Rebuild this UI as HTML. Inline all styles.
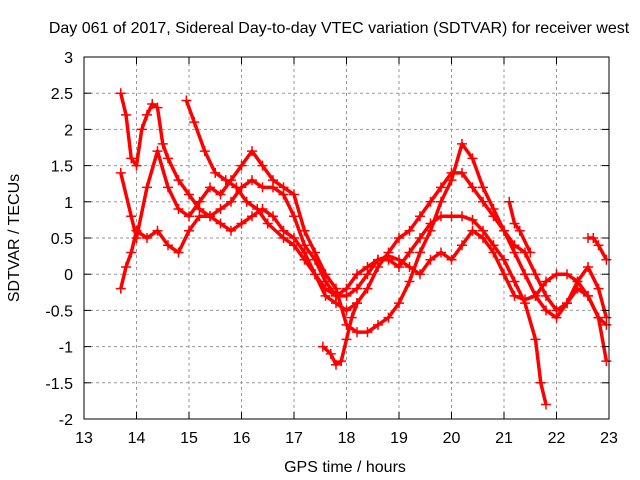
<!DOCTYPE html>
<html><head><meta charset="utf-8"><style>
body{margin:0;background:#fff}
svg{display:block;font-family:"Liberation Sans",sans-serif}
</style></head><body>
<svg id="chart" width="640" height="480">
<text x="339" y="33" font-size="16" text-anchor="middle" fill="#000">Day 061 of 2017, Sidereal Day-to-day VTEC variation (SDTVAR) for receiver west</text>
<text x="345" y="472" font-size="16" text-anchor="middle">GPS time / hours</text>
<text transform="translate(19,238) rotate(-90)" font-size="16" text-anchor="middle">SDTVAR / TECUs</text>
<g id="grid"></g>
<g id="marks"></g>
<rect x="84" y="57" width="525" height="362" fill="none" stroke="#000" stroke-width="1"/>
<g id="ticks"></g>
</svg>
<script>
const xTicks=[13,14,15,16,17,18,19,20,21,22,23];
const yTicks=[3,2.5,2,1.5,1,0.5,0,-0.5,-1,-1.5,-2];
const t1h=[13.7,13.8,13.9,14.0,14.1,14.2,14.3,14.4,14.5,14.6,14.8,15.0,15.2,15.4,15.6,15.8,16.0,16.2,16.4,16.6,16.8,17.0,17.2,17.4,17.6,17.8,18.0,18.2,18.4,18.6,18.8,19.0,19.2,19.4,19.6,19.8,20.0,20.2,20.4,20.6,20.8,21.0,21.2,21.4,21.6,21.7,21.8];
const t1v=[2.5,2.2,1.6,1.5,2.0,2.2,2.35,2.3,1.8,1.6,1.3,1.1,0.9,0.8,0.9,1.0,1.2,1.3,1.2,1.2,1.1,0.8,0.4,0.2,-0.1,-0.3,-0.2,0.0,0.1,0.2,0.2,0.1,0.3,0.5,0.7,0.8,0.8,0.8,0.75,0.6,0.4,0.2,-0.1,-0.4,-0.9,-1.5,-1.8];
const t2h=[14.95,15.1,15.3,15.5,15.7,15.9,16.1,16.3,16.5,16.8,17.0,17.2,17.4,17.6,17.8,18.0,18.2,18.4,18.6,18.8,19.0,19.2,19.4,19.6,19.8,20.0,20.2,20.4,20.6,20.8,21.0,21.2,21.4,21.6,21.8,22.0,22.2,22.4,22.6,22.8,22.95];
const t2v=[2.4,2.1,1.7,1.4,1.3,1.2,1.0,0.9,0.7,0.5,0.4,0.2,0.0,-0.3,-0.4,-0.5,-0.4,-0.2,0.1,0.3,0.5,0.6,0.8,1.0,1.2,1.4,1.4,1.2,1.0,0.8,0.6,0.4,0.3,0.0,-0.3,-0.5,-0.4,-0.2,-0.3,-0.6,-1.2];
const t3h=[13.7,13.8,13.9,14.0,14.2,14.4,14.6,14.8,15.0,15.2,15.4,15.6,15.8,16.0,16.2,16.4,16.6,16.8,17.0,17.2,17.4,17.6,17.8,18.0,18.2,18.4,18.6,18.8,19.0,19.2,19.4,19.6,19.8,20.0,20.2,20.4,20.6,20.8,21.0,21.2,21.4,21.6,21.8,22.0,22.2,22.4,22.6,22.8,22.95];
const t3v=[-0.2,0.1,0.3,0.6,0.5,0.6,0.4,0.3,0.6,0.8,0.8,0.7,0.6,0.7,0.8,0.9,0.8,0.6,0.5,0.3,0.0,-0.2,-0.3,-0.3,-0.2,0.0,0.2,0.25,0.2,0.1,0.0,0.2,0.3,0.2,0.4,0.6,0.5,0.3,0.0,-0.3,-0.35,-0.3,-0.1,0.0,0.0,-0.1,-0.3,-0.6,-0.7];
const t4h=[13.7,13.9,14.0,14.2,14.4,14.6,14.8,15.0,15.2,15.4,15.6,15.8,16.0,16.2,16.4,16.6,16.8,17.0,17.2,17.4,17.6,17.8,18.0,18.2,18.4,18.6,18.8,19.0,19.2,19.4,19.6,19.8,20.0,20.2,20.4,20.6,20.8,21.0,21.2,21.4,21.6,21.8,22.0,22.2,22.4,22.6,22.8,22.95];
const t4v=[1.4,0.8,0.5,1.2,1.7,1.2,0.9,0.8,1.0,1.2,1.1,1.3,1.5,1.7,1.5,1.3,1.2,1.1,0.6,0.3,0.0,-0.2,-0.7,-0.8,-0.8,-0.7,-0.6,-0.4,-0.1,0.3,0.6,1.0,1.3,1.8,1.6,1.2,0.9,0.6,0.3,0.0,-0.3,-0.5,-0.6,-0.4,-0.1,0.1,-0.2,-0.6];
const t5h=[17.55,17.7,17.8,17.9,18.0,18.1,18.2];
const t5v=[-1.0,-1.1,-1.25,-1.2,-0.9,-0.6,-0.4];
const t6h=[22.6,22.7,22.8,22.95];
const t6v=[0.5,0.5,0.4,0.2];
const t7h=[21.1,21.2,21.3,21.5];
const t7v=[1.0,0.7,0.6,0.3];
const series=[[t1h,t1v],[t2h,t2v],[t3h,t3v],[t4h,t4v],[t5h,t5v],[t6h,t6v],[t7h,t7v]];
const X=h=>84+(h-13)*52.5, Y=v=>419-(v+2)*72.4;
const NS='http://www.w3.org/2000/svg';
function mk(tag,attrs,parent){const e=document.createElementNS(NS,tag);for(const k in attrs)e.setAttribute(k,attrs[k]);parent.appendChild(e);return e;}
const grid=document.getElementById('grid'),ticks=document.getElementById('ticks'),marks=document.getElementById('marks');
xTicks.forEach(t=>{const x=X(t);
 if(t>13&&t<23){const g=mk('line',{x1:x,x2:x,y1:57,y2:419,stroke:'#999','stroke-dasharray':'3,3'},grid);
 
 }
 mk('line',{x1:x,x2:x,y1:419,y2:412,stroke:'#000'},ticks);mk('line',{x1:x,x2:x,y1:57,y2:64,stroke:'#000'},ticks);
 const l=mk('text',{x:x,y:443,'font-size':16,'text-anchor':'middle'},ticks);l.textContent=t;
 
 });
yTicks.forEach(t=>{const y=Y(t);
 if(t<3&&t>-2){const g=mk('line',{x1:84,x2:609,y1:y,y2:y,stroke:'#999','stroke-dasharray':'3,3'},grid);
 
 }
 mk('line',{x1:84,x2:91,y1:y,y2:y,stroke:'#000'},ticks);mk('line',{x1:609,x2:602,y1:y,y2:y,stroke:'#000'},ticks);
 const l=mk('text',{x:73,y:y+6,'font-size':16,'text-anchor':'end'},ticks);l.textContent=t;
 
 });
series.forEach((s,i)=>{const [hs,vs]=s;
 const pts=hs.map((h,j)=>X(h)+','+Y(vs[j])).join(' ');
 const pl=mk('polyline',{points:pts,fill:'none',stroke:'#f00','stroke-width':3.5,'stroke-linejoin':'round'},marks);
 
 
 hs.forEach((h,j)=>{const x=X(h),y=Y(vs[j]);
  const p=mk('path',{d:`M${x-5},${y}H${x+5}M${x},${y-5}V${y+5}`,stroke:'#f00','stroke-width':1.5},marks);
  
  });});
</script>
</body></html>
